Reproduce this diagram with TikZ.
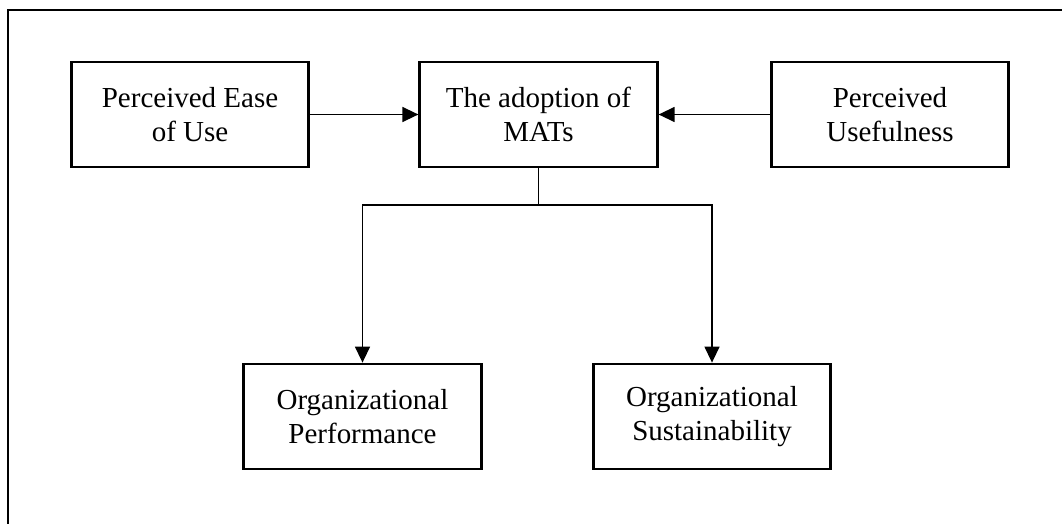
\documentclass[tikz,border=0pt]{standalone}
\usepackage{fontspec}
\setmainfont{Liberation Serif}
\usetikzlibrary{positioning}
\usetikzlibrary{arrows.meta}
\tikzset{
    box/.style = {rectangle, draw=black, line width=1.6pt, minimum width=4.75cm, minimum height=2.1cm, align=center, font=\fontsize{16.5}{19.5}\selectfont},
    edgen/.style = {-{Triangle[length=0.32cm,width=0.3cm]}, line width=0.8pt},
    edgel/.style = {-, line width=0.8pt},
    frame/.style = {line width=1.6pt}
}
\begin{document}
\begin{tikzpicture}[x=0.02cm,y=-0.02cm]
\useasboundingbox (0,0) rectangle (1062,524);
\draw[frame] (8,524) |- (1062,10);
%
\node[box] at (190, 114.5) (peou) {Perceived Ease\\of Use};
\node[box] at (538.5, 114.5) (mat) {The adoption of\\MATs};
\node[box] at (890, 114.5) (pu) {Perceived\\Usefulness};
\node[box] at (362.5, 416.5) (op) {Organizational\\Performance};
\node[box] at (712, 416.5) (os) {Organizational\\Sustainability};
\coordinate (split) at (mat.south |- 0,205);
%
\draw[edgen] (peou) -- (mat);
\draw[edgen] (pu) -- (mat);
\draw[edgel] (mat.south) -- (split);
\draw[edgen] (split) -| (op.north);
\draw[edgen] (split) -| (os.north);
\end{tikzpicture}
\end{document}
